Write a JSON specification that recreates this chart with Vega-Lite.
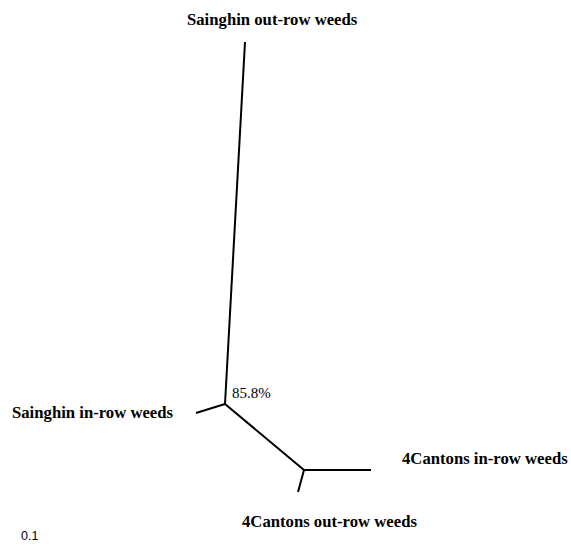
{
  "$schema": "https://vega.github.io/schema/vega-lite/v6.json",
  "width": 571,
  "height": 547,
  "padding": 0,
  "autosize": {"type": "fit", "contains": "padding"},
  "background": "white",
  "config": {"view": {"stroke": null}},
  "datasets": {
    "edges": [
      {"from": "root-out", "x": 245, "y": 42, "x2": 225, "y2": 404},
      {"from": "root-in", "x": 225, "y": 404, "x2": 196, "y2": 413},
      {"from": "internal", "x": 225, "y": 404, "x2": 304, "y2": 470},
      {"from": "4c-in", "x": 304, "y": 470, "x2": 371, "y2": 470},
      {"from": "4c-out", "x": 304, "y": 470, "x2": 298, "y2": 492}
    ],
    "labels": [
      {"label": "Sainghin out-row weeds", "x": 187, "y": 25},
      {"label": "Sainghin in-row weeds", "x": 12, "y": 418},
      {"label": "4Cantons in-row weeds", "x": 402, "y": 464},
      {"label": "4Cantons out-row weeds", "x": 242, "y": 527}
    ],
    "support": [{"label": "85.8%", "x": 232, "y": 398}],
    "scale": [{"label": "0.1", "x": 21, "y": 540}]
  },
  "layer": [
    {
      "data": {"name": "edges"},
      "mark": {"type": "rule", "stroke": "black", "strokeWidth": 2},
      "encoding": {
        "x": {"field": "x", "type": "quantitative", "scale": {"domain": [0, 571], "nice": false, "zero": false}, "axis": null},
        "y": {"field": "y", "type": "quantitative", "scale": {"domain": [547, 0], "nice": false, "zero": false}, "axis": null},
        "x2": {"field": "x2"},
        "y2": {"field": "y2"}
      }
    },
    {
      "data": {"name": "labels"},
      "mark": {"type": "text", "align": "left", "baseline": "alphabetic", "font": "Liberation Serif", "fontWeight": "bold", "fontSize": 16.7, "color": "black"},
      "encoding": {
        "x": {"field": "x", "type": "quantitative", "scale": {"domain": [0, 571], "nice": false, "zero": false}, "axis": null},
        "y": {"field": "y", "type": "quantitative", "scale": {"domain": [547, 0], "nice": false, "zero": false}, "axis": null},
        "text": {"field": "label"}
      }
    },
    {
      "data": {"name": "support"},
      "mark": {"type": "text", "align": "left", "baseline": "alphabetic", "font": "Liberation Serif", "fontSize": 15, "color": "black"},
      "encoding": {
        "x": {"field": "x", "type": "quantitative", "scale": {"domain": [0, 571], "nice": false, "zero": false}, "axis": null},
        "y": {"field": "y", "type": "quantitative", "scale": {"domain": [547, 0], "nice": false, "zero": false}, "axis": null},
        "text": {"field": "label"}
      }
    },
    {
      "data": {"name": "scale"},
      "mark": {"type": "text", "align": "left", "baseline": "alphabetic", "font": "Liberation Sans", "fontSize": 12.5, "color": "black"},
      "encoding": {
        "x": {"field": "x", "type": "quantitative", "scale": {"domain": [0, 571], "nice": false, "zero": false}, "axis": null},
        "y": {"field": "y", "type": "quantitative", "scale": {"domain": [547, 0], "nice": false, "zero": false}, "axis": null},
        "text": {"field": "label"}
      }
    }
  ]
}
